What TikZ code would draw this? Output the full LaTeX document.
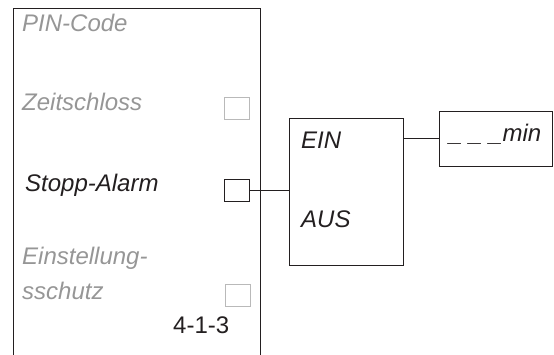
\documentclass[tikz,border=0pt]{standalone}
\usepackage{fontspec}
\setmainfont{Liberation Sans}
\usetikzlibrary{positioning}
\definecolor{linecolor}{RGB}{35,31,32}
\definecolor{greytextcolor}{RGB}{150,150,150}
\definecolor{greyboxcolor}{RGB}{185,185,185}
\tikzset{
  itemtext/.style={anchor=base west, inner sep=0pt, font=\fontsize{24}{28}\selectfont\itshape, text=linecolor},
  greytext/.style={itemtext, text=greytextcolor},
  codetext/.style={itemtext, font=\fontsize{24}{28}\selectfont},
  checkbox/.style={rectangle, draw=linecolor, line width=0.9pt, minimum width=25pt, minimum height=22pt, inner sep=0pt},
  greybox/.style={checkbox, draw=greyboxcolor},
  valuebox/.style={rectangle, draw=linecolor, line width=0.9pt, inner sep=0pt},
  conn/.style={draw=linecolor, line width=0.9pt}
}
\begin{document}
\begin{tikzpicture}[x=1pt, y=-1pt]
  \useasboundingbox (0,0) rectangle (554,355);

  % menu column, open at the bottom
  \draw[conn] (13,355) -- (13,8) -- (260,8) -- (260,355);

  \node[greytext] (pin)   at (22,32)  {PIN-Code};
  \node[greytext] (zeit)  at (22,111) {Zeitschloss};
  \node[itemtext] (stopp) at (25,192) {Stopp-Alarm};
  \node[greytext] (einst) at (22,265) {Einstellung-};
  \node[greytext] (schutz) at (22,299) {sschutz};
  \node[codetext] (code)  at (173,333) {4-1-3};

  \node[greybox]  (cbzeit)  at (237,108.5) {};
  \node[checkbox] (cbstopp) at (237,190.5) {};
  \node[greybox]  (cbeinst) at (237.5,295.5) {};

  % EIN/AUS selection and time value
  \node[valuebox, minimum width=114pt, minimum height=147pt] (einaus) at (346,191.5) {};
  \node[itemtext] (ein) at (301,149) {EIN};
  \node[itemtext] (aus) at (301,228) {AUS};

  \node[valuebox, minimum width=113pt, minimum height=55pt] (minbox) at (496,138.5) {};
  \node[itemtext] (min) at (449,142) {\_ \_ \_min};

  \draw[conn] (cbstopp.east) -- (cbstopp.east -| einaus.west);
  \draw[conn] (minbox.west) -- (minbox.west -| einaus.east);

\end{tikzpicture}
\end{document}
